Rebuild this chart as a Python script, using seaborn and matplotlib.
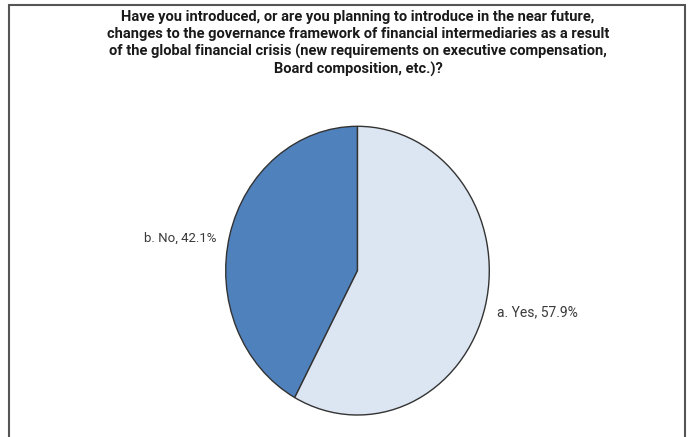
import matplotlib
matplotlib.use("Agg")
import matplotlib.pyplot as plt
import seaborn as sns
from matplotlib.patches import Rectangle

sns.set_theme(style="white")
plt.rcParams["font.family"] = ["Roboto", "DejaVu Sans"]

# Survey responses
categories = ["b. No", "a. Yes"]
shares = [42.1, 57.9]
colors = ["#4f81bd", "#dce6f2"]
title = ("Have you introduced, or are you planning to introduce in the near future,\n"
         "changes to the governance framework of financial intermediaries as a result\n"
         "of the global financial crisis (new requirements on executive compensation,\n"
         "Board composition, etc.)?")

W, H = 692, 437
fig = plt.figure(figsize=(W / 100, H / 100), dpi=100)
fig.patch.set_facecolor("white")

# Outer frame (open at the bottom edge of the image)
fig.add_artist(Rectangle((9 / W, -0.05), (685 - 9) / W, 1.05 - 4.5 / H,
                         transform=fig.transFigure, fill=False,
                         edgecolor="#555555", linewidth=1.5))

fig.text(358 / W, 1 - 10 / H, title, ha="center", va="top",
         fontsize=10.5, fontweight="bold", linespacing=1.25,
         family=["Roboto", "DejaVu Sans"], color="#1a1a1a")

ax = fig.add_axes([225.7 / W, (H - 415) / H, 263.6 / W, 288.7 / H])
wedges, _ = ax.pie(shares, colors=colors, startangle=90, counterclock=True,
                   wedgeprops=dict(edgecolor="#333333", linewidth=1.0))
ax.set_aspect("auto")
ax.set_xlim(-1, 1)
ax.set_ylim(-1, 1)

# Slice labels with the value
ax.text(-1.07, 0.226, f"{categories[0]}, {shares[0]}%", ha="right", va="center",
        fontsize=9.5, color="#3a3a3a")
ax.text(1.058, -0.287, f"{categories[1]}, {shares[1]}%", ha="left", va="center",
        fontsize=10, color="#3a3a3a")

fig.savefig("out.png", dpi=100, facecolor="white")
